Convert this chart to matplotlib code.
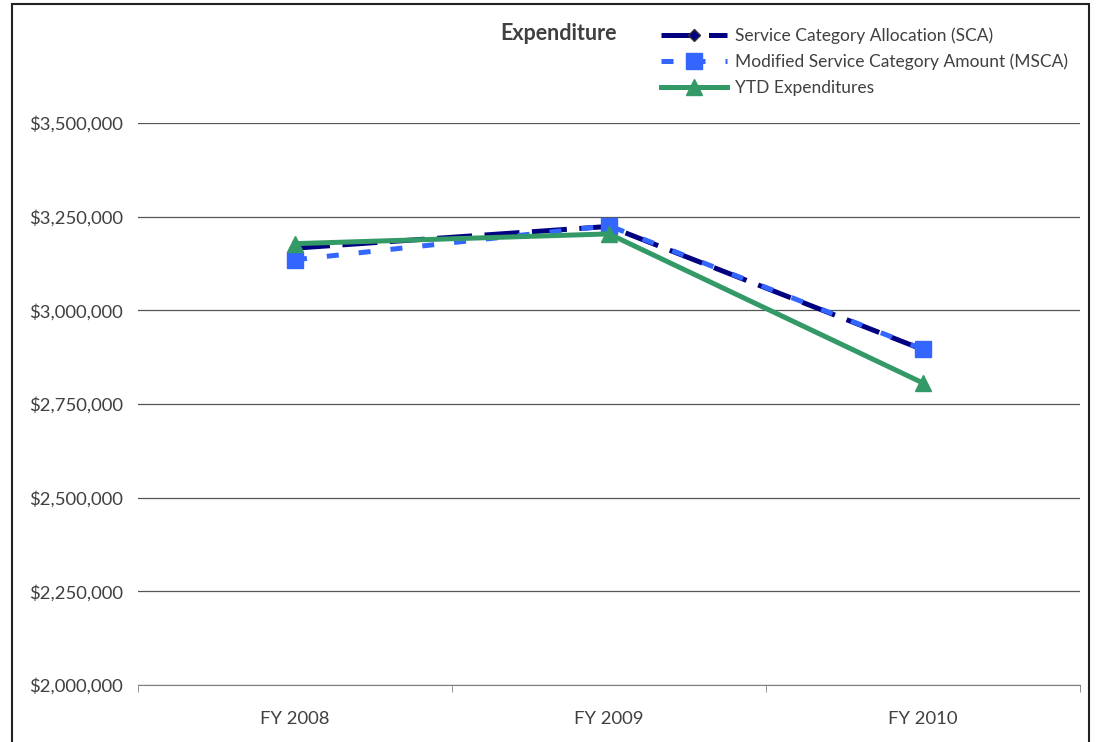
import matplotlib
matplotlib.use("Agg")
import matplotlib.pyplot as plt
from matplotlib.patches import Rectangle
from matplotlib.ticker import FuncFormatter

categories = ["FY 2008", "FY 2009", "FY 2010"]
sca = [3166000, 3224000, 2895000]
msca = [3135000, 3226000, 2896000]
ytd = [3178000, 3204000, 2806000]
yticks = [2000000, 2250000, 2500000, 2750000, 3000000, 3250000, 3500000]

plt.rcParams['font.family'] = ['Lato', 'DejaVu Sans']

W, H = 1101, 742
fig = plt.figure(figsize=(W / 100, H / 100), dpi=100)
ax = fig.add_axes([138 / W, 1 - 685 / H, (1080 - 138) / W, (685 - 123) / H])

x = list(range(len(categories)))
ax.plot(x, sca, color="#000080", lw=3.6, dashes=(7, 2.5), marker="D", ms=6,
        mfc="#000080", mec="#333333", label="Service Category Allocation (SCA)", zorder=3)
ax.plot(x, msca, color="#3366FF", lw=3.6, dashes=(2.4, 4), marker="s", ms=11,
        mfc="#3366FF", mec="#3366FF", label="Modified Service Category Amount (MSCA)", zorder=4)
ax.plot(x, ytd, color="#339966", lw=3.6, marker="^", ms=11,
        mfc="#339966", mec="#339966", label="YTD Expenditures", zorder=5)

ax.set_xlim(-0.5, len(categories) - 0.5)
ax.set_ylim(2000000, 3500000)
ax.set_yticks(yticks)
ax.yaxis.set_major_formatter(FuncFormatter(lambda v, p: "${:,.0f}".format(v)))
ax.set_xticks(x)
ax.set_xticklabels(categories)
ax.set_xticks([i - 0.5 for i in range(len(categories) + 1)], minor=True)
ax.grid(axis="y", color="#555555", lw=0.9)
ax.set_axisbelow(True)
for s in ["top", "right", "left"]:
    ax.spines[s].set_visible(False)
ax.spines["bottom"].set_color("#808080")
ax.tick_params(axis="y", length=0, pad=11, labelsize=13.3, labelcolor="#404040")
ax.tick_params(axis="x", which="major", length=0, pad=19, labelsize=13.3, labelcolor="#404040")
ax.tick_params(axis="x", which="minor", length=5, color="#808080", direction="out")

fig.text(558 / W, 1 - 34 / H, "Expenditure", ha="center", va="center",
         fontsize=15.5, fontweight="bold", color="#404040")

leg = ax.legend(loc="upper left", bbox_to_anchor=(645 / W, 1 - 12 / H),
                bbox_transform=fig.transFigure, frameon=False, fontsize=12.5,
                handlelength=3.8, handletextpad=0.5, labelspacing=0.55)
for t in leg.get_texts():
    t.set_color("#404040")

fig.patches.append(Rectangle((12 / W, -0.01), (1089 - 12) / W, 1 - 4 / H + 0.01,
                             transform=fig.transFigure, fill=False, ec="#222222", lw=1.5))

fig.savefig("out.png", dpi=100)
